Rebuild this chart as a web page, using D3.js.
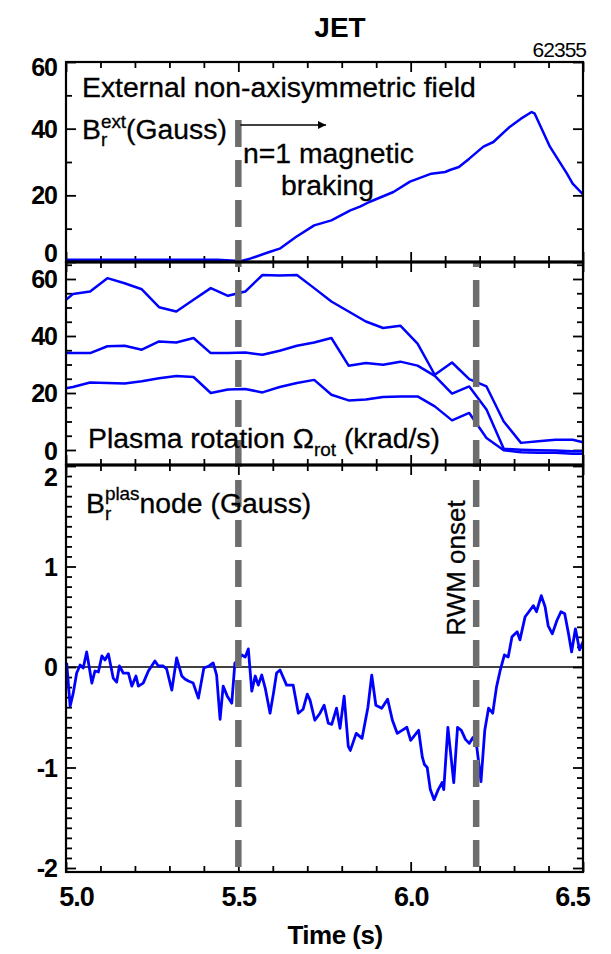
<!DOCTYPE html>
<html>
<head>
<meta charset="utf-8">
<script src="https://cdn.jsdelivr.net/npm/d3@7"></script>
<style>
  body { margin: 0; background: #fff; }
  svg { display: block; font-family: "Liberation Sans", Arial, sans-serif; }
</style>
</head>
<body>
<svg id="chart" width="611" height="954"></svg>
<script>
// ---- data ----
const xTickValues = [5.0, 5.5, 6.0, 6.5]
const xTickLabels = ["5.0", "5.5", "6.0", "6.5"]

// external n=1 field (Gauss)
const extTime = [5.0, 5.44, 5.49, 5.5, 5.534, 5.59, 5.62, 5.667, 5.72, 5.77, 5.825, 5.853, 5.88, 5.95, 5.998, 6.06, 6.10, 6.114, 6.14, 6.17, 6.211, 6.24, 6.288, 6.32, 6.351, 6.36, 6.404, 6.453, 6.47, 6.5]
const extField = [0.7, 0.7, 0.4, 0.1, 1, 3, 4, 7.5, 11, 12.5, 15.5, 16.6, 18, 21, 24.1, 26.5, 27, 27.6, 28.5, 31, 34.6, 36, 40.6, 43, 45, 44.5, 34.6, 26.6, 23.5, 20.3]

// plasma rotation (krad/s), three radii sampled at the same times
const rotTime = [5.00, 5.02, 5.07, 5.12, 5.17, 5.22, 5.27, 5.32, 5.37, 5.42, 5.47, 5.52, 5.57, 5.62, 5.67, 5.72, 5.77, 5.82, 5.87, 5.92, 5.97, 6.02, 6.07, 6.12, 6.17, 6.22, 6.27, 6.32, 6.37, 6.42, 6.47, 6.50]
const rotCore = [52.7, 54.7, 55.6, 60.3, 58.5, 56.4, 50.1, 48.6, 52.7, 56.8, 54.1, 55.6, 61.4, 61.2, 61.4, 56.8, 52.1, 48.6, 45.1, 42.8, 43.6, 37.3, 26.4, 30.7, 24.9, 22.3, 10.0, 2.5, 3.1, 3.6, 3.6, 2.7]
const rotMid = [34.0, 34.0, 34.0, 36.4, 36.6, 35.2, 38.1, 37.7, 39.3, 34.0, 34.0, 34.2, 33.4, 34.8, 36.6, 37.7, 39.3, 29.6, 30.5, 29.9, 31.0, 29.6, 26.0, 19.8, 22.3, 14.2, 0.4, 0.1, -0.1, -0.2, -0.4, -0.4]
const rotEdge = [21.7, 22.1, 23.7, 23.5, 23.3, 24.1, 25.2, 26.0, 25.6, 20.0, 21.2, 21.4, 20.2, 22.1, 23.5, 24.6, 19.4, 17.4, 17.7, 18.6, 18.8, 18.8, 15.3, 10.4, 13.0, 4.2, -0.1, -0.8, -1.0, -1.0, -1.3, -1.3]

// plasma response at the n=1 node (Gauss)
const plasTime = [5.002, 5.012, 5.021, 5.031, 5.041, 5.050, 5.060, 5.075, 5.084, 5.094, 5.104, 5.113, 5.123, 5.137, 5.147, 5.155, 5.166, 5.181, 5.191, 5.203, 5.210, 5.224, 5.239, 5.258, 5.268, 5.282, 5.292, 5.307, 5.321, 5.336, 5.345, 5.355, 5.369, 5.384, 5.400, 5.415, 5.427, 5.437, 5.447, 5.456, 5.468, 5.481, 5.490, 5.500, 5.510, 5.520, 5.529, 5.539, 5.549, 5.558, 5.568, 5.578, 5.592, 5.602, 5.611, 5.621, 5.631, 5.640, 5.659, 5.674, 5.688, 5.700, 5.708, 5.722, 5.737, 5.749, 5.761, 5.771, 5.785, 5.795, 5.807, 5.819, 5.825, 5.842, 5.859, 5.876, 5.887, 5.899, 5.916, 5.933, 5.947, 5.961, 5.975, 5.989, 6.000, 6.023, 6.034, 6.040, 6.048, 6.057, 6.068, 6.080, 6.091, 6.096, 6.108, 6.125, 6.136, 6.147, 6.159, 6.170, 6.181, 6.192, 6.204, 6.215, 6.226, 6.238, 6.249, 6.260, 6.272, 6.283, 6.294, 6.309, 6.317, 6.332, 6.343, 6.356, 6.365, 6.379, 6.390, 6.399, 6.411, 6.424, 6.436, 6.447, 6.458, 6.467, 6.478, 6.490, 6.500]
const plasField = [0.04, -0.39, -0.26, -0.06, 0.02, -0.01, 0.15, -0.16, -0.04, -0.05, 0.11, 0.07, 0.13, -0.11, -0.15, 0.01, -0.06, -0.06, -0.19, -0.09, -0.19, -0.16, -0.04, 0.06, 0.01, 0.01, -0.02, -0.23, 0.09, -0.09, -0.12, -0.14, -0.16, -0.31, -0.01, 0.01, 0.04, -0.08, -0.52, -0.19, -0.29, -0.36, 0.04, 0.07, 0.12, 0.10, 0.18, -0.24, -0.09, -0.18, -0.08, -0.21, -0.46, -0.26, -0.06, -0.03, -0.11, -0.18, -0.18, -0.46, -0.42, -0.27, -0.33, -0.53, -0.46, -0.38, -0.56, -0.57, -0.41, -0.61, -0.29, -0.79, -0.83, -0.66, -0.71, -0.40, -0.08, -0.38, -0.41, -0.32, -0.53, -0.66, -0.63, -0.60, -0.73, -0.63, -0.90, -0.97, -1.0, -1.22, -1.32, -1.22, -1.15, -1.22, -0.6, -1.15, -0.6, -0.63, -0.72, -0.76, -0.70, -0.80, -1.14, -0.63, -0.41, -0.46, -0.20, -0.03, 0.12, 0.10, 0.30, 0.35, 0.27, 0.50, 0.55, 0.61, 0.55, 0.71, 0.60, 0.41, 0.33, 0.46, 0.55, 0.53, 0.33, 0.15, 0.38, 0.17, 0.25]

// event times
const brakingStart = 5.5
const rwmOnset = 6.19

// ---- layout ----
const svg = d3.select("#chart")
const left = 66, right = 583
const x = d3.scaleLinear().domain([5.0, 6.5]).range([left, right])

const panels = [
    { top: 62, bottom: 262, y: d3.scaleLinear().domain([0, 60]).range([262, 62]),
      major: [0, 20, 40, 60], minor: [10, 30, 50], labelShift: { 60: 5, 0: -9 } },
    { top: 262, bottom: 465, y: d3.scaleLinear().domain([0, 60]).range([450, 279]),
      major: [0, 20, 40, 60], minor: [5, 10, 15, 25, 30, 35, 45, 50, 55, 65], labelShift: { 0: 1 } },
    { top: 465, bottom: 872, y: d3.scaleLinear().domain([-2, 2]).range([868, 466]),
      major: [-2, -1, 0, 1, 2], minor: d3.range(-20, 21).filter(d => d % 10 !== 0).map(d => d / 10),
      labelShift: { 2: 11 } }
]
const xMinor = d3.range(50, 66).filter(d => d % 5 !== 0).map(d => d / 10)

const blue = "#0000ff"
const tickWidth = 1.8

panels.forEach((p, i) => {
    const g = svg.append("g")
    // y ticks, left & right, pointing inwards
    const yl = g.append("g").attr("transform", `translate(${left},0)`)
        .call(d3.axisLeft(p.y).tickValues(p.major).tickSize(-10).tickPadding(9).tickFormat(d => String(d)))
    yl.selectAll("text")
        .style("font-size", "25px").style("font-weight", "bold").attr("fill", "#000")
        .attr("dy", d => (0.34 * 25 + (p.labelShift[d] || 0)) + "px")
    g.append("g").attr("transform", `translate(${left},0)`)
        .call(d3.axisLeft(p.y).tickValues(p.minor).tickSize(-6).tickFormat(""))
    g.append("g").attr("transform", `translate(${right},0)`)
        .call(d3.axisRight(p.y).tickValues(p.major).tickSize(-10).tickFormat(""))
    g.append("g").attr("transform", `translate(${right},0)`)
        .call(d3.axisRight(p.y).tickValues(p.minor).tickSize(-6).tickFormat(""))
    // x ticks top & bottom
    g.append("g").attr("transform", `translate(0,${p.top})`)
        .call(d3.axisTop(x).tickValues(xTickValues).tickSize(-10).tickFormat(""))
    g.append("g").attr("transform", `translate(0,${p.top})`)
        .call(d3.axisTop(x).tickValues(xMinor).tickSize(-6).tickFormat(""))
    g.append("g").attr("transform", `translate(0,${p.bottom})`)
        .call(d3.axisBottom(x).tickValues(xTickValues).tickSize(-10).tickFormat(""))
    g.append("g").attr("transform", `translate(0,${p.bottom})`)
        .call(d3.axisBottom(x).tickValues(xMinor).tickSize(-6).tickFormat(""))
    g.selectAll(".domain").remove()
    g.selectAll(".tick line").attr("stroke", "#000").attr("stroke-width", tickWidth)
    g.selectAll(".tick text").attr("font-family", null).style("letter-spacing", "-1px")
    p.g = g
})

// bottom x labels
const xl = svg.append("g").attr("transform", `translate(0,${panels[2].bottom})`)
    .call(d3.axisBottom(x).tickValues(xTickValues).tickSize(0).tickPadding(15)
        .tickFormat((d, i) => xTickLabels[i]))
xl.select(".domain").remove()
xl.selectAll("text").attr("font-family", null)
    .style("font-size", "27px").style("font-weight", "bold").style("letter-spacing", "-1px").attr("fill", "#000")
    .attr("dx", d => d === 5.0 ? 10 : (d === 6.5 ? -11 : 0))

// zero line of lower panel
svg.append("line")
    .attr("x1", left).attr("x2", right)
    .attr("y1", panels[2].y(0)).attr("y2", panels[2].y(0))
    .attr("stroke", "#000").attr("stroke-width", 1.3)

// data lines
const lineOf = (ys, ts, vs) => d3.line().x((d, i) => x(ts[i])).y(d => ys(d))(vs)

const drawLine = (ts, vs, ys, w) => svg.append("path")
    .attr("d", lineOf(ys, ts, vs))
    .attr("fill", "none").attr("stroke", blue).attr("stroke-width", w)
    .attr("stroke-linejoin", "round")

drawLine(extTime, extField, panels[0].y, 2.5)
drawLine(rotTime, rotCore, panels[1].y, 2.5)
drawLine(rotTime, rotMid, panels[1].y, 2.5)
drawLine(rotTime, rotEdge, panels[1].y, 2.5)
drawLine(plasTime, plasField, panels[2].y, 2.8)

// dashed event markers
svg.append("line")
    .attr("x1", x(brakingStart)).attr("x2", x(brakingStart))
    .attr("y1", 120).attr("y2", 868)
    .attr("stroke", "#6d6d6d").attr("stroke-width", 6.5).attr("stroke-dasharray", "27,13")
svg.append("line")
    .attr("x1", x(rwmOnset)).attr("x2", x(rwmOnset))
    .attr("y1", 262).attr("y2", 868)
    .attr("stroke", "#6d6d6d").attr("stroke-width", 6.5).attr("stroke-dasharray", "27,13")
    .attr("stroke-dashoffset", 22)

// panel frames
panels.forEach(p => {
    svg.append("rect")
        .attr("x", left).attr("y", p.top)
        .attr("width", right - left).attr("height", p.bottom - p.top)
        .attr("fill", "none").attr("stroke", "#000").attr("stroke-width", 2.2)
})
svg.append("line").attr("x1", left).attr("x2", right).attr("y1", 262).attr("y2", 262)
    .attr("stroke", "#000").attr("stroke-width", 3.2)
svg.append("line").attr("x1", left).attr("x2", right).attr("y1", 465).attr("y2", 465)
    .attr("stroke", "#000").attr("stroke-width", 3.2)

// ---- text ----
const stretch = 1.05
const label = (tx, ty, fs) => svg.append("g")
    .attr("transform", `translate(${tx},${ty}) scale(${stretch},1)`)
    .append("text").attr("x", 0).attr("y", 0)
    .style("font-size", fs + "px").attr("fill", "#000")
    .attr("stroke", "#000").attr("stroke-width", 0.3)

svg.append("text").attr("x", 340).attr("y", 37).attr("text-anchor", "middle")
    .style("font-size", "28px").style("font-weight", "bold").text("JET")
svg.append("text").attr("x", 586).attr("y", 57).attr("text-anchor", "end")
    .style("font-size", "21px").style("letter-spacing", "-1px").text("62355")

label(82, 97, 27).text("External non-axisymmetric field")

const bExt = label(82, 139, 27)
bExt.append("tspan").text("B")
bExt.append("tspan").attr("dy", 7).style("font-size", "18px").text("r")
bExt.append("tspan").attr("dx", -6).attr("dy", -18).style("font-size", "18px").text("ext")
bExt.append("tspan").attr("dy", 11).text("(Gauss)")

// braking arrow
svg.append("defs").append("marker")
    .attr("id", "head").attr("viewBox", "0 0 10 10").attr("refX", 10).attr("refY", 5)
    .attr("markerWidth", 14).attr("markerHeight", 8).attr("markerUnits", "userSpaceOnUse")
    .attr("orient", "auto")
    .append("path").attr("d", "M0,0 L10,5 L0,10 Z").attr("fill", "#000")
svg.append("line")
    .attr("x1", x(brakingStart) + 2).attr("x2", 326).attr("y1", 125).attr("y2", 125)
    .attr("stroke", "#000").attr("stroke-width", 1.6).attr("marker-end", "url(#head)")

label(243, 163, 27).text("n=1 magnetic")
label(281, 195, 27).text("braking")

const rotLabel = label(88, 448, 27)
rotLabel.append("tspan").text("Plasma rotation \u03a9")
rotLabel.append("tspan").attr("dy", 8).style("font-size", "18px").text("rot")
rotLabel.append("tspan").attr("dy", -8).text(" (krad/s)")

const bPlas = label(86, 513, 27)
bPlas.append("tspan").text("B")
bPlas.append("tspan").attr("dy", 7).style("font-size", "18px").text("r")
bPlas.append("tspan").attr("dx", -6).attr("dy", -20).style("font-size", "18px").text("plas")
bPlas.append("tspan").attr("dy", 13).text("node (Gauss)")

svg.append("g").attr("transform", `translate(465,568) rotate(-90) scale(1.0,1)`)
    .append("text").attr("text-anchor", "middle")
    .attr("stroke", "#000").attr("stroke-width", 0.3)
    .style("font-size", "26px").text("RWM onset")

svg.append("text").attr("x", 335).attr("y", 944).attr("text-anchor", "middle")
    .style("font-size", "26px").style("font-weight", "bold").style("letter-spacing", "-0.5px")
    .text("Time (s)")
</script>
</body>
</html>
